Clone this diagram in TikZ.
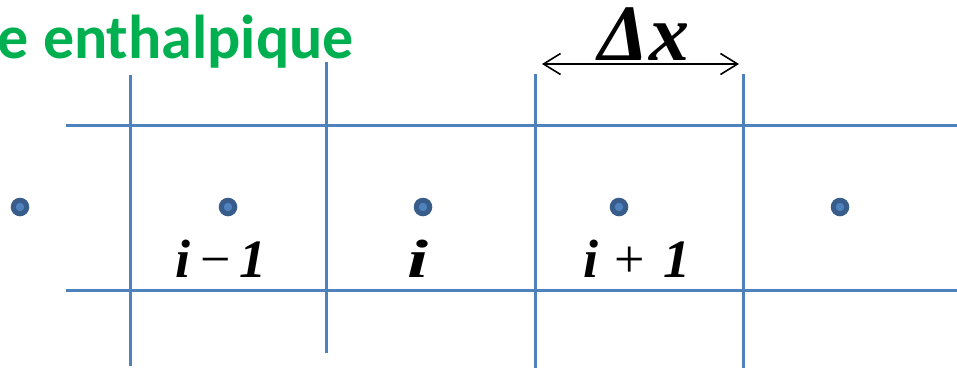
\documentclass[tikz,border=0pt]{standalone}
\usepackage{fontspec}
\setmainfont{Liberation Serif}
\newfontfamily\titlefont{Carlito}
\newfontfamily\labfont{Liberation Serif}
\usetikzlibrary{arrows.meta}
\definecolor{gridblue}{HTML}{4F81BD}
\definecolor{dotdark}{HTML}{385D8A}
\definecolor{titlegreen}{HTML}{00B050}
\tikzset{
  gridline/.style={draw=gridblue, line width=3pt},
  cellpt/.style={circle, fill=gridblue, draw=dotdark, line width=5pt, minimum size=13.5pt, inner sep=0pt},
  idx/.style={font=\labfont\fontsize{54}{60}\selectfont\bfseries\itshape, inner sep=0pt, anchor=base},
  dimarrow/.style={line width=1.6pt, {Straight Barb[length=17pt,width=21pt,line width=1.6pt]}-{Straight Barb[length=17pt,width=21pt,line width=1.6pt]}}
}
\begin{document}
\begin{tikzpicture}[x=1pt,y=-1pt]
\useasboundingbox (0,0) rectangle (957,368);
% title
\node[font=\titlefont\fontsize{62}{70}\selectfont\bfseries, text=titlegreen, anchor=base east, inner sep=0pt] (title) at (354,58) {e enthalpique};
% grid
\coordinate (h1a) at (66,125); \coordinate (h1b) at (957,125);
\coordinate (h2a) at (66,290); \coordinate (h2b) at (957,290);
\coordinate (v1a) at (130,75); \coordinate (v1b) at (130,366);
\coordinate (v2a) at (326,62); \coordinate (v2b) at (326,353);
\coordinate (v3a) at (535,74); \coordinate (v3b) at (535,368);
\coordinate (v4a) at (743,74); \coordinate (v4b) at (743,368);
\draw[gridline] (h1a) -- (h1b);
\draw[gridline] (h2a) -- (h2b);
\draw[gridline] (v1a) -- (v1b);
\draw[gridline] (v2a) -- (v2b);
\draw[gridline] (v3a) -- (v3b);
\draw[gridline] (v4a) -- (v4b);
% points
\node[cellpt] (p0) at (20,207) {};
\node[cellpt] (p1) at (228,207) {};
\node[cellpt] (p2) at (423,207) {};
\node[cellpt] (p3) at (619,207) {};
\node[cellpt] (p4) at (840,207) {};
% labels
\node[idx] (l1) at (221,277) {i\hspace{0.18em}{\mdseries\upshape −}\hspace{0.15em}1};
\node[idx, xscale=1.4] (l2) at (418,277) {i};
\node[idx] (l3) at (637,277) {i\hspace{0.3em}{\mdseries\upshape +}\hspace{0.35em}1};
% delta x
\coordinate (da) at (542,64);
\coordinate (db) at (739,64);
\draw[dimarrow] (da) -- (db);
\node[font=\labfont\fontsize{80}{90}\selectfont\bfseries\itshape, anchor=base, inner sep=0pt] (dx) at (644,60) {Δx};
\end{tikzpicture}
\end{document}
